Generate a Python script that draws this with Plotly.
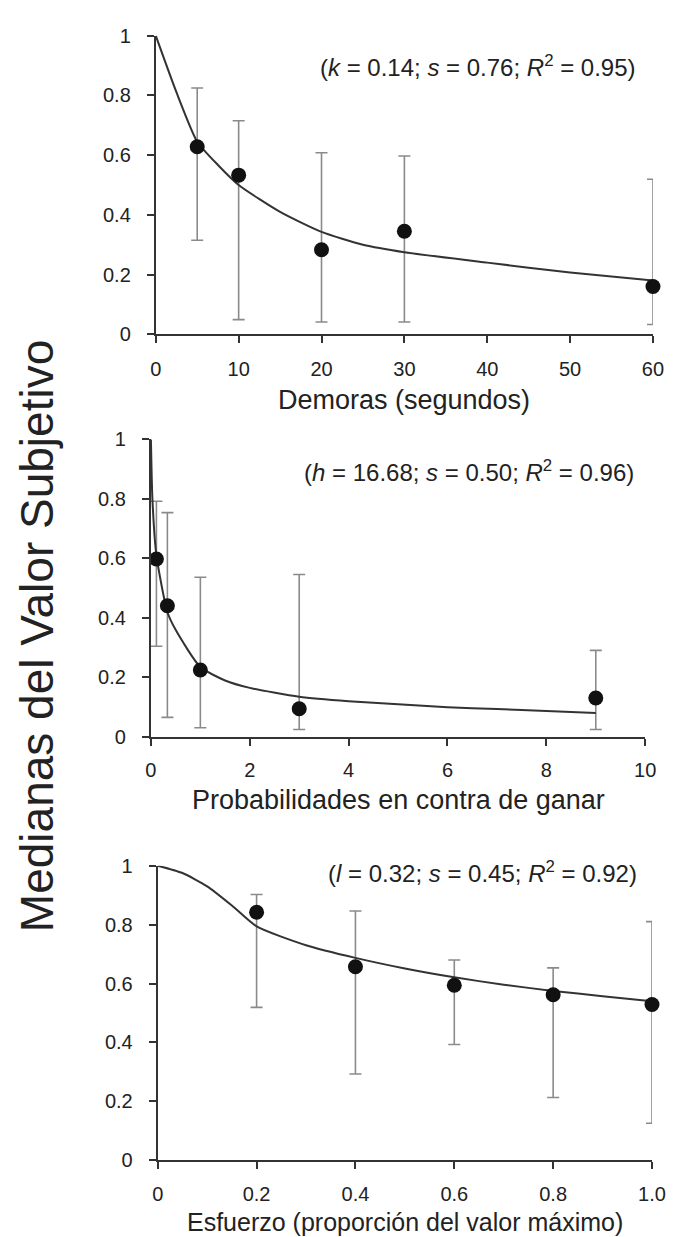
import plotly.graph_objects as go

# ---------- Panel 1: Demoras ----------
delay_x = [5, 10, 20, 30, 60]
delay_y = [0.628, 0.533, 0.283, 0.345, 0.160]
delay_hi = [0.825, 0.715, 0.608, 0.597, 0.519]
delay_lo = [0.315, 0.049, 0.041, 0.041, 0.033]
delay_fit_x = [0, 2.5, 5, 7.5, 10, 15, 20, 25, 30, 40, 50, 60]
delay_fit_y = [1.0, 0.81, 0.645, 0.567, 0.50, 0.41, 0.343, 0.30, 0.275, 0.24, 0.207, 0.18]
delay_ticks = [0, 10, 20, 30, 40, 50, 60]

# ---------- Panel 2: Probabilidades ----------
odds_x = [0.111, 0.333, 1, 3, 9]
odds_y = [0.598, 0.441, 0.225, 0.095, 0.131]
odds_hi = [0.792, 0.754, 0.537, 0.546, 0.291]
odds_lo = [0.305, 0.066, 0.031, 0.025, 0.025]
odds_fit_x = [0, 0.03, 0.111, 0.333, 0.5, 1, 1.5, 2, 3, 4, 5, 6, 7, 8, 9]
odds_fit_y = [1.0, 0.80, 0.61, 0.42, 0.36, 0.235, 0.19, 0.165, 0.135, 0.12, 0.11, 0.10, 0.094, 0.087, 0.081]
odds_ticks = [0, 2, 4, 6, 8, 10]

# ---------- Panel 3: Esfuerzo ----------
eff_x = [0.2, 0.4, 0.6, 0.8, 1.0]
eff_y = [0.842, 0.657, 0.594, 0.562, 0.529]
eff_hi = [0.902, 0.846, 0.680, 0.653, 0.810]
eff_lo = [0.519, 0.293, 0.393, 0.213, 0.126]
eff_fit_x = [0, 0.05, 0.1, 0.15, 0.2, 0.3, 0.4, 0.5, 0.6, 0.7, 0.8, 0.9, 1.0]
eff_fit_y = [1.0, 0.975, 0.93, 0.865, 0.794, 0.73, 0.687, 0.651, 0.621, 0.596, 0.575, 0.557, 0.54]
eff_ticks = [0, 0.2, 0.4, 0.6, 0.8, 1.0]
eff_ticktext = ["0", "0.2", "0.4", "0.6", "0.8", "1.0"]

y_ticks = [0, 0.2, 0.4, 0.6, 0.8, 1]
y_ticktext = ["0", "0.2", "0.4", "0.6", "0.8", "1"]

W, H = 692, 1237
FONT = "Liberation Sans, Arial, sans-serif"
TXT = "#222222"

panels = [
    dict(x=delay_x, y=delay_y, hi=delay_hi, lo=delay_lo, fx=delay_fit_x, fy=delay_fit_y,
         xr=[0, 60], xt=delay_ticks, xtt=[str(v) for v in delay_ticks],
         px=(146, 658), py=(321, 17), xstand=9,
         title="Demoras (segundos)", tsize=27, ty=388,
         note="(<i>k</i> = 0.14; <i>s</i> = 0.76; <i>R</i><sup>2</sup> = 0.95)", nx=478, ny=48),
    dict(x=odds_x, y=odds_y, hi=odds_hi, lo=odds_lo, fx=odds_fit_x, fy=odds_fit_y,
         xr=[0, 10], xt=odds_ticks, xtt=[str(v) for v in odds_ticks],
         px=(141, 650), py=(731, 428), xstand=7,
         title="Probabilidades en contra de ganar", tsize=27, ty=795,
         note="(<i>h</i> = 16.68; <i>s</i> = 0.50; <i>R</i><sup>2</sup> = 0.96)", nx=469, ny=460),
    dict(x=eff_x, y=eff_y, hi=eff_hi, lo=eff_lo, fx=eff_fit_x, fy=eff_fit_y,
         xr=[0, 1.0], xt=eff_ticks, xtt=eff_ticktext,
         px=(148, 657), py=(1162, 862), xstand=8,
         title="Esfuerzo (proporción del valor máximo)", tsize=25, ty=1225,
         note="(<i>l</i> = 0.32; <i>s</i> = 0.45; <i>R</i><sup>2</sup> = 0.92)", nx=482, ny=868),
]

fig = go.Figure()
annotations = []
layout_axes = {}

for i, p in enumerate(panels, start=1):
    xa = "x" if i == 1 else f"x{i}"
    ya = "y" if i == 1 else f"y{i}"
    plus = [h - v for h, v in zip(p["hi"], p["y"])]
    minus = [v - l for v, l in zip(p["y"], p["lo"])]
    fig.add_trace(go.Scatter(
        x=p["x"], y=p["y"], mode="markers",
        marker=dict(color="rgba(0,0,0,0)", size=15),
        error_y=dict(type="data", array=plus, arrayminus=minus, color="#8a8a8a", thickness=1.6, width=6),
        xaxis=xa, yaxis=ya, showlegend=False, hoverinfo="skip", cliponaxis=False))
    fig.add_trace(go.Scatter(
        x=p["fx"], y=p["fy"], mode="lines",
        line=dict(color="#333333", width=2, shape="spline", smoothing=0.6),
        xaxis=xa, yaxis=ya, showlegend=False, hoverinfo="skip", cliponaxis=False))
    fig.add_trace(go.Scatter(
        x=p["x"], y=p["y"], mode="markers",
        marker=dict(color="#111111", size=15),
        xaxis=xa, yaxis=ya, showlegend=False, cliponaxis=False))

    x0, x1 = p["px"]
    yb, yt = p["py"]
    xkey = "xaxis" if i == 1 else f"xaxis{i}"
    ykey = "yaxis" if i == 1 else f"yaxis{i}"
    layout_axes[xkey] = dict(
        domain=[x0 / W, x1 / W], range=p["xr"], anchor=ya,
        tickvals=p["xt"], ticktext=p["xtt"], ticks="outside", ticklen=7, tickwidth=2, tickcolor="#333333",
        ticklabelstandoff=p["xstand"],
        showline=True, linecolor="#333333", linewidth=2, showgrid=False, zeroline=False,
        tickfont=dict(family=FONT, size=20, color=TXT), fixedrange=True)
    layout_axes[ykey] = dict(
        domain=[(H - yb) / H, (H - yt) / H], range=[0, 1], anchor=xa,
        tickvals=y_ticks, ticktext=y_ticktext, ticks="outside", ticklen=7, tickwidth=2, tickcolor="#333333",
        ticklabelstandoff=12,
        showline=True, linecolor="#333333", linewidth=2, showgrid=False, zeroline=False,
        tickfont=dict(family=FONT, size=20, color=TXT), fixedrange=True)

    annotations.append(dict(
        text=p["title"], x=(x0 + x1) / 2 / W, y=(H - p["ty"]) / H, xref="paper", yref="paper",
        xanchor="center", yanchor="middle", showarrow=False,
        font=dict(family=FONT, size=p["tsize"], color=TXT)))
    annotations.append(dict(
        text=p["note"], x=p["nx"] / W, y=(H - p["ny"]) / H, xref="paper", yref="paper",
        xanchor="center", yanchor="middle", showarrow=False,
        font=dict(family=FONT, size=24, color=TXT)))

annotations.append(dict(
    text="Medianas del Valor Subjetivo", x=24 / W, y=(H - 628) / H, xref="paper", yref="paper",
    xanchor="center", yanchor="middle", textangle=-90, showarrow=False,
    font=dict(family=FONT, size=46, color=TXT)))

fig.update_layout(
    width=W, height=H, margin=dict(l=0, r=0, t=0, b=0),
    paper_bgcolor="white", plot_bgcolor="white",
    annotations=annotations, **layout_axes)

fig.write_html("out.html")
